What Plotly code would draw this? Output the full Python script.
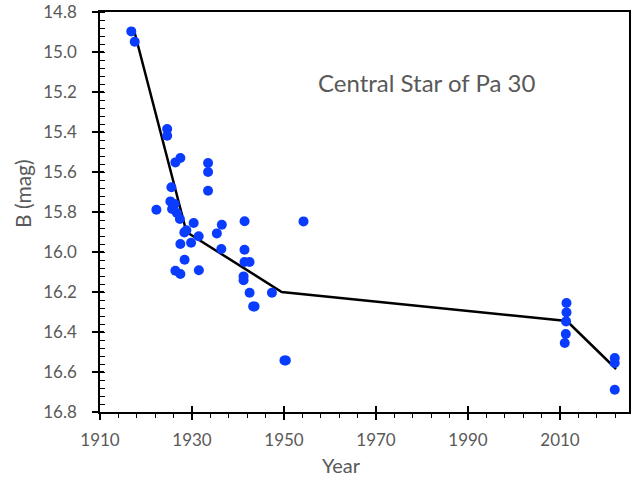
import plotly.graph_objects as go

# Observations (year, B magnitude)
obs_year = [1916.8, 1917.55, 1924.6, 1924.6, 1927.47, 1926.39, 1933.49, 1933.49, 1933.49,
            1925.52, 1925.3, 1926.24, 1922.26, 1925.67, 1926.71, 1927.36, 1930.36, 1936.48,
            1941.43, 1954.24, 1928.78, 1928.34, 1935.4, 1931.45, 1927.47, 1929.8, 1936.37,
            1941.41, 1941.41, 1942.52, 1928.39, 1926.39, 1927.47, 1931.49, 1941.21, 1941.21,
            1942.52, 1947.38, 1943.3, 1943.6, 1950.1, 1950.4,
            2011.41, 2011.41, 2011.32, 2011.26, 2011.04, 2021.9, 2021.9, 2021.9]
obs_mag = [14.897, 14.949, 15.385, 15.419, 15.530, 15.552, 15.555, 15.600, 15.694,
           15.676, 15.747, 15.760, 15.789, 15.785, 15.805, 15.835, 15.855, 15.864,
           15.846, 15.847, 15.891, 15.902, 15.907, 15.921, 15.960, 15.954, 15.985,
           15.989, 16.050, 16.050, 16.039, 16.094, 16.110, 16.091, 16.122, 16.141,
           16.204, 16.204, 16.272, 16.272, 16.542, 16.542,
           16.255, 16.302, 16.347, 16.410, 16.455, 16.530, 16.555, 16.689]

# Piecewise trend line vertices
trend_year = [1917.5, 1928.8, 1949.5, 2011.5, 2022.2]
trend_mag = [14.90, 15.90, 16.20, 16.345, 16.585]

x_tickvals = [1910, 1930, 1950, 1970, 1990, 2010]
y_tickvals = [14.8, 15.0, 15.2, 15.4, 15.6, 15.8, 16.0, 16.2, 16.4, 16.6, 16.8]

title_text = "Central Star of Pa 30"
x_title = "Year"
y_title = "B (mag)"
font_family = "Lato, 'Open Sans', sans-serif"
gray = "#595959"

ML, MR, MT, MB = 100, 11, 12, 66
W, H = 640, 478
plot_w = W - ML - MR
plot_h = H - MT - MB

fig = go.Figure()
fig.add_trace(go.Scatter(x=trend_year, y=trend_mag, mode="lines",
                         line=dict(color="black", width=2.5), showlegend=False,
                         hoverinfo="skip"))
fig.add_trace(go.Scatter(x=obs_year, y=obs_mag, mode="markers",
                         marker=dict(color="#0a3cff", size=10, line=dict(width=0)),
                         showlegend=False))
# dummy trace for overlay axes (cross ticks)
fig.add_trace(go.Scatter(x=[None], y=[None], xaxis="x2", yaxis="y2", showlegend=False))

fig.update_layout(
    width=W, height=H,
    margin=dict(l=ML, r=MR, t=MT, b=MB),
    paper_bgcolor="white", plot_bgcolor="white",
    font=dict(family=font_family, color=gray),
    xaxis=dict(range=[1910, 2025], tickvals=x_tickvals, ticktext=[str(v) for v in x_tickvals],
               ticks="outside", ticklen=6, tickwidth=1.5, tickcolor="black",
               minor=dict(dtick=4, tick0=1910, ticks="outside", ticklen=4, tickcolor="black", tickwidth=1.2),
               showline=True, linecolor="black", linewidth=1.5, mirror=True,
               showgrid=False, zeroline=False, automargin=False, ticklabelstandoff=6,
               tickfont=dict(size=17, color=gray)),
    yaxis=dict(range=[16.8, 14.8], tickvals=y_tickvals, ticktext=[f"{v:.1f}" for v in y_tickvals],
               ticks="outside", ticklen=6, tickwidth=1.5, tickcolor="black",
               minor=dict(dtick=0.04, tick0=14.8, ticks="inside", ticklen=5, tickcolor="black", tickwidth=1.2),
               showline=True, linecolor="black", linewidth=1.5, mirror=True,
               showgrid=False, zeroline=False, automargin=False, ticklabelstandoff=12,
               tickfont=dict(size=17, color=gray)),
    xaxis2=dict(range=[1910, 2025], overlaying="x", anchor="y", side="bottom",
                tickvals=x_tickvals, ticks="inside", ticklen=6, tickwidth=1.5, tickcolor="black",
                showticklabels=False, showline=False, showgrid=False, zeroline=False, automargin=False),
    yaxis2=dict(range=[16.8, 14.8], overlaying="y", anchor="x", side="left",
                tickvals=y_tickvals, ticks="inside", ticklen=4, tickwidth=1.5, tickcolor="black",
                showticklabels=False, showline=False, showgrid=False, zeroline=False, automargin=False),
    annotations=[
        dict(x=1981.0, y=15.15, xref="x", yref="y", text=title_text,
             showarrow=False, font=dict(size=24, color=gray, family=font_family)),
        dict(xref="paper", yref="paper", x=(341 - ML) / plot_w, y=(H - MB - 465) / plot_h,
             xanchor="center", yanchor="middle", text=x_title, showarrow=False,
             font=dict(size=20, color=gray, family=font_family)),
        dict(xref="paper", yref="paper", x=(23 - ML) / plot_w, y=(H - MB - 194) / plot_h,
             xanchor="center", yanchor="middle", text=y_title, textangle=-90, showarrow=False,
             font=dict(size=21, color=gray, family=font_family)),
    ],
)

fig.write_html("out.html", config={"displayModeBar": False},
               post_script="document.body.style.margin='0';")
